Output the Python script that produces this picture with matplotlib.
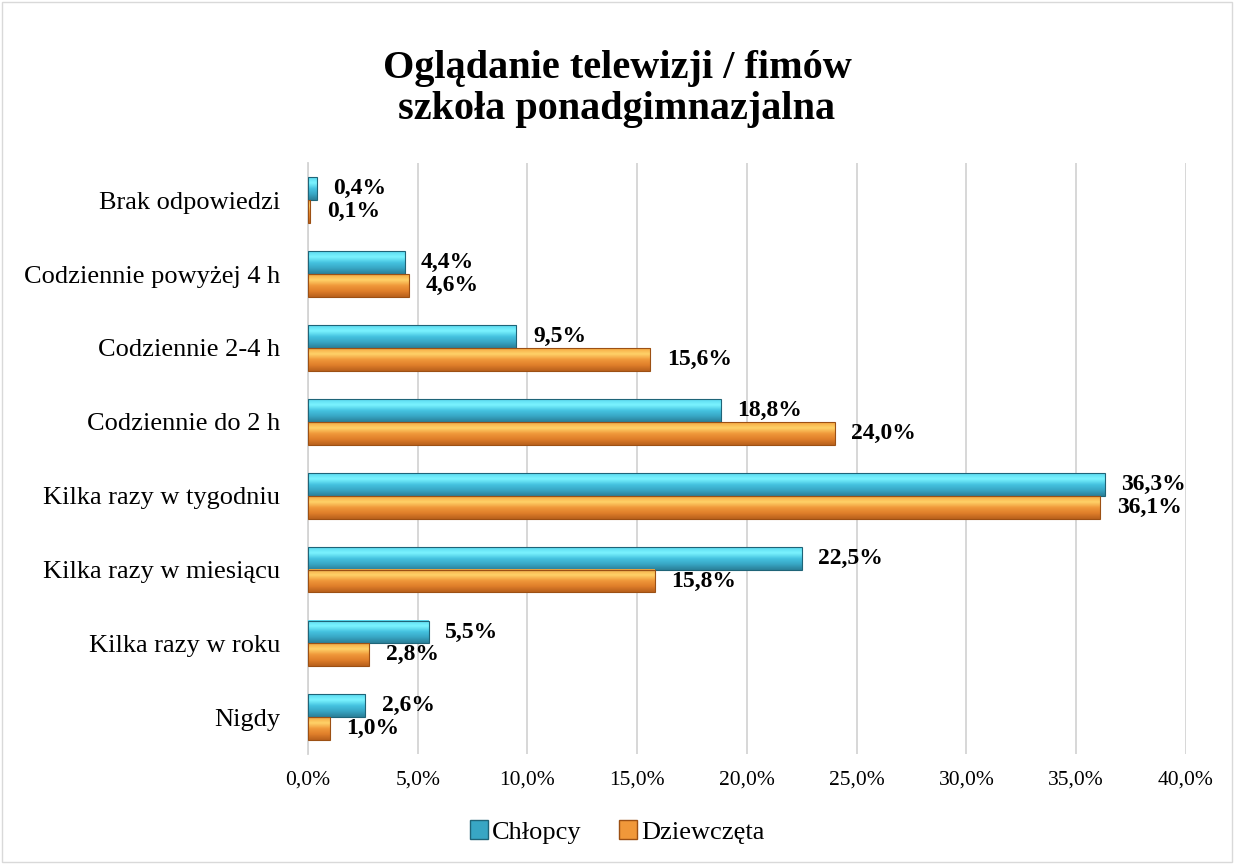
import matplotlib.pyplot as plt
import numpy as np
from matplotlib.colors import LinearSegmentedColormap
from matplotlib.patches import Rectangle
from matplotlib.ticker import FuncFormatter

plt.rcParams["font.family"] = ["Liberation Serif", "DejaVu Serif"]

categories = ["Nigdy", "Kilka razy w roku", "Kilka razy w miesiącu",
              "Kilka razy w tygodniu", "Codziennie do 2 h", "Codziennie 2-4 h",
              "Codziennie powyżej 4 h", "Brak odpowiedzi"]
chlopcy = [2.6, 5.5, 22.5, 36.3, 18.8, 9.5, 4.4, 0.4]
dziewczeta = [1.0, 2.8, 15.8, 36.1, 24.0, 15.6, 4.6, 0.1]
series_names = ["Chłopcy", "Dziewczęta"]

blue_cmap = LinearSegmentedColormap.from_list(
    "b", ["#2a7f98", "#38a6c4", "#45c3e0", "#7cf4ff", "#5ad8ef"])
orange_cmap = LinearSegmentedColormap.from_list(
    "o", ["#b8611c", "#df7e2a", "#f0983a", "#ffd36a", "#f5a640"])


def grad_bar(ax, y, w, h, cmap, edge):
    grad = np.linspace(0, 1, 64).reshape(-1, 1)
    ax.imshow(grad, extent=(0, w, y - h / 2, y + h / 2), origin="lower",
              aspect="auto", cmap=cmap, zorder=3, interpolation="bicubic")
    ax.add_patch(Rectangle((0, y - h / 2), w, h, fill=False, edgecolor=edge,
                           linewidth=0.8, zorder=4))


fig = plt.figure(figsize=(12.34, 8.64), dpi=100)
ax = fig.add_axes([0.2496, 0.127, 0.7114, 0.684])

h = 0.31
y = np.arange(len(categories))
for i in range(len(categories)):
    grad_bar(ax, y[i] + h / 2, chlopcy[i], h, blue_cmap, "#1f6478")
    grad_bar(ax, y[i] - h / 2, dziewczeta[i], h, orange_cmap, "#9c5014")
    ax.text(chlopcy[i] + 0.75, y[i] + h / 2, f"{chlopcy[i]:.1f}%".replace(".", ","),
            va="center", ha="left", fontsize=17, fontweight="bold")
    ax.text(dziewczeta[i] + 0.75, y[i] - h / 2, f"{dziewczeta[i]:.1f}%".replace(".", ","),
            va="center", ha="left", fontsize=17, fontweight="bold")

ax.set_xlim(0, 40)
ax.set_ylim(-0.5, len(categories) - 0.5)
ax.set_xticks(np.arange(0, 41, 5))
ax.xaxis.set_major_formatter(FuncFormatter(lambda v, p: f"{v:.1f}%".replace(".", ",")))
ax.set_yticks(y)
ax.set_yticklabels(categories, fontsize=19)
ax.tick_params(axis="x", labelsize=15.5, length=0, pad=12)
ax.tick_params(axis="y", length=0, pad=20)
ax.grid(axis="x", color="#d4d4d4", linewidth=1.3, zorder=0)
ax.set_axisbelow(True)
for s in ["top", "right", "bottom"]:
    ax.spines[s].set_visible(False)
ax.spines["left"].set_color("#d4d4d4")
ax.spines["left"].set_linewidth(1.3)

fig.text(0.5, 0.897, "Oglądanie telewizji / fimów\nszkoła ponadgimnazjalna",
         ha="center", va="center", fontsize=29, fontweight="bold", linespacing=1.15)

handles = [Rectangle((0, 0), 1, 1, facecolor="#38a6c4", edgecolor="#1f6478"),
           Rectangle((0, 0), 1, 1, facecolor="#f0983a", edgecolor="#9c5014")]
fig.legend(handles, series_names, loc="center", bbox_to_anchor=(0.5, 0.037),
           ncol=2, frameon=False, fontsize=19, handlelength=0.7, handleheight=0.7,
           handletextpad=0.15, columnspacing=1.4)

fig.add_artist(Rectangle((0.002, 0.002), 0.996, 0.996, transform=fig.transFigure,
                         fill=False, edgecolor="#d9d9d9", linewidth=1))

fig.savefig("out.png", dpi=100)
